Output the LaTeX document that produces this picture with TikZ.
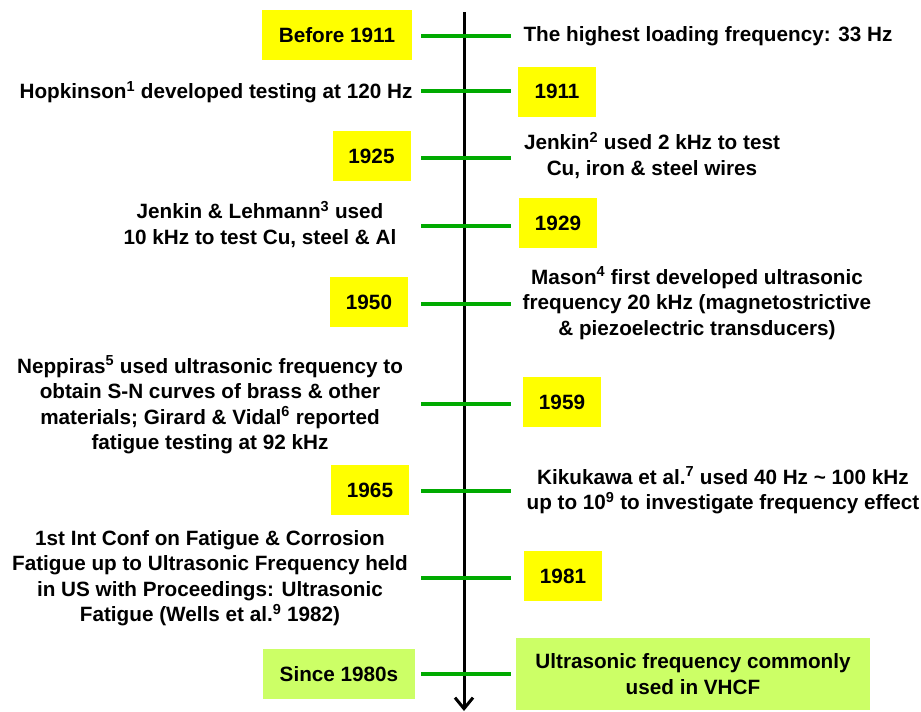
\documentclass[tikz,border=0pt]{standalone}
\usepackage{fontspec}
\setmainfont{Liberation Sans}
\usetikzlibrary{arrows.meta}
\definecolor{eventyellow}{RGB}{255,255,0}
\definecolor{eventlime}{RGB}{204,255,102}
\definecolor{tickgreen}{RGB}{0,170,0}
\newcommand{\refmark}[1]{\textsuperscript{#1}}
\tikzset{
  every node/.style={font=\fontsize{20.7}{25.5}\selectfont\bfseries, text=black},
  yearbox/.style={fill=eventyellow, draw=none, minimum width=78pt, minimum height=50pt, inner sep=0pt},
  limebox/.style={fill=eventlime, draw=none, inner sep=0pt},
  note/.style={align=center, inner sep=0pt},
  tick/.style={draw=tickgreen, line width=4.5pt},
  axis/.style={draw=black, line width=3pt, -{Straight Barb[length=11pt,width=18pt,line width=3pt]}}
}
\begin{document}
\begin{tikzpicture}[x=1pt,y=-1pt]
\useasboundingbox (0,0) rectangle (921,712);

% central time axis
\coordinate (axtop) at (464,12);
\coordinate (axbot) at (464,711);
\draw[axis] (axtop) -- (axbot);

% green ticks crossing the axis
\foreach \i/\y in {1/36,2/91,3/158,4/226,5/304,6/404,7/491,8/578,9/674}{
  \coordinate (tl\i) at (421,\y);
  \coordinate (tr\i) at (511,\y);
  \draw[tick] (tl\i) -- (tr\i);
}

% years
\node[yearbox, minimum width=150pt] (y1) at (337,35) {Before 1911};
\node[yearbox] (y2) at (557,91.5) {1911};
\node[yearbox] (y3) at (371.5,156) {1925};
\node[yearbox] (y4) at (558,223) {1929};
\node[yearbox] (y5) at (369,302) {1950};
\node[yearbox] (y6) at (562,402) {1959};
\node[yearbox] (y7) at (370,490) {1965};
\node[yearbox] (y8) at (563,576) {1981};
\node[limebox, minimum width=152pt, minimum height=50pt] (y9) at (339,674) {Since 1980s};

% events
\node[note] (e1) at (708,36) {The highest loading frequency: 33 Hz};
\node[note] (e2) at (216,92) {Hopkinson\refmark{1} developed testing at 120 Hz};
\node[note] (e3) at (652,155.5) {Jenkin\refmark{2} used 2 kHz to test\\Cu, iron \& steel wires};
\node[note] (e4) at (260,224.5) {Jenkin \& Lehmann\refmark{3} used\\10 kHz to test Cu, steel \& Al};
\node[note] (e5) at (697,303) {Mason\refmark{4} first developed ultrasonic\\frequency 20 kHz (magnetostrictive\\\& piezoelectric transducers)};
\node[note] (e6) at (210,405) {Neppiras\refmark{5} used ultrasonic frequency to\\obtain S-N curves of brass \& other\\materials; Girard \& Vidal\refmark{6} reported\\fatigue testing at 92 kHz};
\node[note] (e7) at (723,490.5) {Kikukawa et al.\refmark{7} used 40 Hz \textasciitilde{} 100 kHz\\up to 10\refmark{9} to investigate frequency effect};
\node[note] (e8) at (210,578) {1st Int Conf on Fatigue \& Corrosion\\Fatigue up to Ultrasonic Frequency held\\in US with Proceedings: Ultrasonic\\Fatigue (Wells et al.\refmark{9} 1982)};
\node[limebox, note, minimum width=354pt, minimum height=72pt] (e9) at (693,674) {Ultrasonic frequency commonly\\used in VHCF};
\end{tikzpicture}
\end{document}
